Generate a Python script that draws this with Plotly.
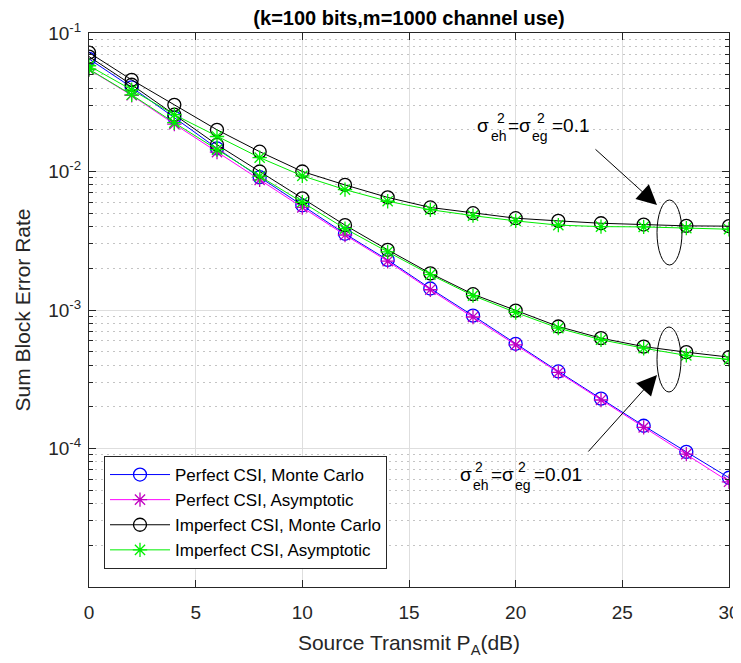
import plotly.graph_objects as go

# ---------------- data ----------------
snr_db = [0, 2, 4, 6, 8, 10, 12, 14, 16, 18, 20, 22, 24, 26, 28, 30]

perfect_mc = [0.065, 0.0405, 0.0245, 0.0147, 0.0091, 0.0057, 0.00355, 0.0023, 0.00143,
              0.00091, 0.00057, 0.00036, 0.000229, 0.000146, 0.0000946, 0.0000615]
perfect_asym = [0.0545, 0.0355, 0.022, 0.0138, 0.0087, 0.0055, 0.00348, 0.00225, 0.0014,
                0.00089, 0.00056, 0.000354, 0.000224, 0.000142, 0.000091, 0.0000575]

imperfect_mc_001 = [0.0676, 0.0423, 0.0257, 0.0156, 0.0100, 0.0064, 0.0041, 0.00272, 0.00184,
                    0.0013, 0.00099, 0.00076, 0.000626, 0.000544, 0.000496, 0.000457]
imperfect_asym_001 = [0.0548, 0.0358, 0.0225, 0.0144, 0.00925, 0.0060, 0.00387, 0.00263, 0.0018,
                      0.00127, 0.00096, 0.00074, 0.00061, 0.00053, 0.00047, 0.00044]

imperfect_mc_01 = [0.0722, 0.0459, 0.0303, 0.0200, 0.0139, 0.0100, 0.0080, 0.0065, 0.0055,
                   0.0050, 0.0046, 0.0044, 0.00423, 0.00414, 0.00405, 0.00403]
imperfect_asym_01 = [0.058, 0.0389, 0.0257, 0.0179, 0.0126, 0.0093, 0.0074, 0.0061, 0.0053,
                     0.0048, 0.0044, 0.0041, 0.0040, 0.00398, 0.0039, 0.00383]

legend_names = ["Perfect CSI, Monte Carlo", "Perfect CSI, Asymptotic",
                "Imperfect CSI, Monte Carlo", "Imperfect CSI, Asymptotic"]
y_major_ticks = [1e-4, 1e-3, 1e-2, 1e-1]
y_tick_labels = ["10<sup>-4</sup>", "10<sup>-3</sup>", "10<sup>-2</sup>", "10<sup>-1</sup>"]
x_ticks = [0, 5, 10, 15, 20, 25, 30]

FONT = "Arial, Liberation Sans, Helvetica, sans-serif"

fig = go.Figure()

def add(y, name, color, symbol, show, lcolor=None, msize=13):
    fig.add_trace(go.Scatter(
        x=snr_db, y=y, name=name, mode="lines+markers", showlegend=show,
        line=dict(color=lcolor or color, width=1),
        marker=dict(symbol=symbol, size=msize, color=color,
                    line=dict(color=color, width=1.3)),
    ))

add(perfect_mc, legend_names[0], "#0000ff", "circle-open", True)
add(perfect_asym, legend_names[1], "#c000c0", "asterisk-open", True, lcolor="#ff00ff", msize=12)
add(imperfect_mc_001, legend_names[2], "#000000", "circle-open", True)
add(imperfect_asym_001, legend_names[3], "#00ee00", "asterisk-open", True, msize=12)
add(imperfect_mc_01, legend_names[2], "#000000", "circle-open", False)
add(imperfect_asym_01, legend_names[3], "#00ee00", "asterisk-open", False, msize=12)

# ---------------- layout ----------------
PAGE_W, PAGE_H = 741, 663
OFF = 8                      # default page body margin
L, T, W, H = 89, 33, 640, 554  # plot area in page pixels

def paper(px, py):
    return (px - L) / W, (T + H - py) / H

FIG_W, FIG_H = PAGE_W - OFF, PAGE_H - OFF
minor_vals = [m * 10.0 ** e for e in range(-5, -1) for m in range(2, 10)]

fig.update_layout(
    width=FIG_W, height=FIG_H,
    margin=dict(l=L - OFF, r=FIG_W - (L - OFF) - W, t=T - OFF, b=FIG_H - (T - OFF) - H),
    paper_bgcolor="white", plot_bgcolor="white",
    font=dict(family=FONT, color="#262626", size=19),
    title=dict(text="<b>(k=100 bits,m=1000 channel use)</b>",
               x=(L + W / 2 - OFF) / FIG_W, xanchor="center",
               y=1 - (18 - OFF) / FIG_H, yanchor="middle",
               font=dict(size=20, color="#000000", family=FONT)),
    showlegend=True,
    legend=dict(x=paper(104, 0)[0], y=paper(0, 456)[1], xanchor="left", yanchor="top",
                bgcolor="white", bordercolor="#262626", borderwidth=1,
                font=dict(size=17, color="#000000", family=FONT),
                tracegroupgap=0, itemwidth=60),
    xaxis=dict(range=[0, 30], tickvals=x_ticks, ticks="inside", ticklen=7,
               tickcolor="#262626", showline=True, linecolor="#262626", linewidth=1.2,
               mirror="ticks", showgrid=True, gridcolor="#dedede", gridwidth=1,
               zeroline=False, tickfont=dict(size=19), automargin=False,
               ticklabelstandoff=8,
               title=dict(text="Source Transmit P<sub>A</sub>(dB)", font=dict(size=21),
                          standoff=13)),
    yaxis=dict(type="log", range=[-5, -1], tickvals=y_major_ticks, ticktext=y_tick_labels,
               ticks="inside", ticklen=7, tickcolor="#262626", showline=True,
               linecolor="#262626", linewidth=1.2, mirror="ticks", showgrid=True,
               gridcolor="#dedede", gridwidth=1, zeroline=False, tickfont=dict(size=19),
               automargin=False, ticklabelstandoff=3,
               minor=dict(tickvals=minor_vals, ticks="inside", ticklen=4,
                          tickcolor="#262626", showgrid=True, gridcolor="#c4c4c4",
                          griddash="1.5px,4.5px", gridwidth=1),
               title=dict(text="Sum Block Error Rate", font=dict(size=21), standoff=11)),
)

# ---------------- annotations ----------------
def label(parts, y0):
    for text, lx, kind in parts:
        if kind == "main":
            py, size = y0, 19
        elif kind == "sup":
            py, size = y0 - 7, 14
        else:
            py, size = y0 + 11, 14
        xp, yp = paper(lx, py)
        fig.add_annotation(text=text, xref="paper", yref="paper", x=xp, y=yp,
                           xanchor="left", yanchor="middle", showarrow=False,
                           font=dict(size=size, color="#000000", family=FONT),
                           borderpad=0)

label([("σ", 476, "main"), ("2", 496, "sup"), ("eh", 490, "sub"),
       ("=σ", 507, "main"), ("2", 536, "sup"), ("eg", 531, "sub"),
       ("=0.1", 551, "main")], 125)
label([("σ", 459, "main"), ("2", 474, "sup"), ("eh", 472, "sub"),
       ("=σ", 490, "main"), ("2", 517, "sup"), ("eg", 514, "sub"),
       ("=0.01", 533, "main")], 474)

# arrows
for tip, tail in [((657, 205), (594, 148)), ((657, 375), (587, 453))]:
    xp, yp = paper(*tip)
    fig.add_annotation(x=xp, y=yp, xref="paper", yref="paper", text="",
                       showarrow=True, arrowhead=2, arrowsize=4, arrowwidth=1,
                       arrowcolor="#000000", ax=tail[0] - tip[0], ay=tail[1] - tip[1],
                       standoff=0)

# ellipses
for (x0, y0p, x1, y1p) in [(657, 200, 682, 265), (657, 327, 681, 392)]:
    a0, b0 = paper(x0, y1p)
    a1, b1 = paper(x1, y0p)
    fig.add_shape(type="circle", xref="paper", yref="paper", x0=a0, y0=b0, x1=a1, y1=b1,
                  line=dict(color="#000000", width=1))

fig.write_html("out.html")
